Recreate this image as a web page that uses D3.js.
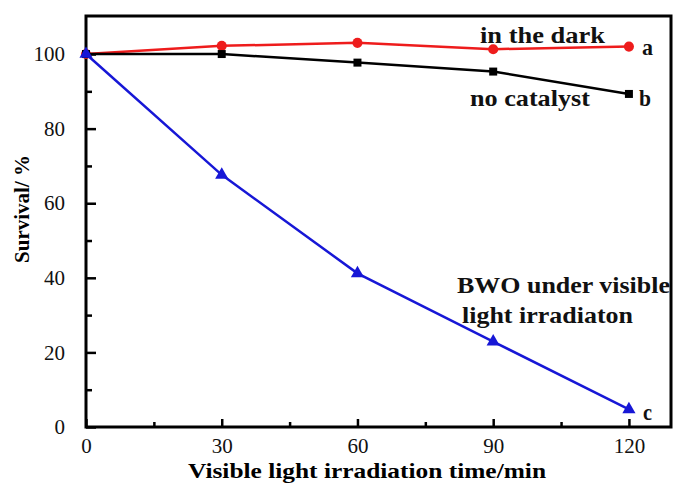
<!DOCTYPE html>
<html>
<head>
<meta charset="utf-8">
<script src="https://cdn.jsdelivr.net/npm/d3@7"></script>
<style>
  body { margin: 0; background: #fff; }
</style>
</head>
<body>
<div id="place"></div>
<script>
// data
const times = [0, 30, 60, 90, 120];
const darkValues = [100, 102.2, 103, 101.3, 102];
const noCatalystValues = [100, 100, 97.7, 95.3, 89.3];
const bwoValues = [100, 67.6, 41.2, 22.9, 4.7];
const xTicks = [0, 30, 60, 90, 120];
const yTicks = [0, 20, 40, 60, 80, 100];

const serif = "'Liberation Serif'";
const W = 673, H = 484;
const margin = { top: 16, right: 2, bottom: 57, left: 86 };
const width = W - margin.left - margin.right,
    height = H - margin.top - margin.bottom;

let svg = d3.select("#place").append("svg")
    .attr("width", W)
    .attr("height", H)
    .style("font-family", serif);

let g = svg.append("g")
    .attr("transform", "translate(" + margin.left + "," + margin.top + ")");

let x = d3.scaleLinear().domain([0, 129.3]).range([0, width]);
let y = d3.scaleLinear().domain([0, 110.2]).range([height, 0]);

// minor + major ticks, pointing inside
g.append("g")
    .attr("transform", "translate(0," + height + ")")
    .call(d3.axisBottom(x).tickValues([15, 45, 75, 105]).tickSize(-5).tickFormat(""))
    .call(a => a.select(".domain").remove())
    .call(a => a.selectAll("line").attr("stroke-width", 2.5));

g.append("g")
    .attr("transform", "translate(0," + height + ")")
    .call(d3.axisBottom(x).tickValues(xTicks).tickSize(-8).tickPadding(11))
    .call(a => a.select(".domain").remove())
    .call(a => a.selectAll("line").attr("stroke-width", 2.5))
    .call(a => a.selectAll("text").style("font-family", serif).attr("font-size", 21).attr("fill", "#111"));

g.append("g")
    .call(d3.axisLeft(y).tickValues([10, 30, 50, 70, 90]).tickSize(-6).tickFormat(""))
    .call(a => a.select(".domain").remove())
    .call(a => a.selectAll("line").attr("stroke-width", 2.5));

g.append("g")
    .call(d3.axisLeft(y).tickValues(yTicks).tickSize(-10).tickPadding(21))
    .call(a => a.select(".domain").remove())
    .call(a => a.selectAll("line").attr("stroke-width", 2.5))
    .call(a => a.selectAll("text").style("font-family", serif).attr("font-size", 21).attr("fill", "#111"));

// frame
g.append("rect")
    .attr("width", width)
    .attr("height", height)
    .attr("fill", "none")
    .attr("stroke", "#000")
    .attr("stroke-width", 3);

let line = d3.line()
    .x((d, i) => x(times[i]))
    .y(d => y(d));

const series = [
    { values: darkValues, color: "#ee1c1c", shape: "circle" },
    { values: noCatalystValues, color: "#000000", shape: "square" },
    { values: bwoValues, color: "#1717d6", shape: "triangle" }
];

series.forEach(function (s) {
    g.append("path")
        .datum(s.values)
        .attr("d", line)
        .attr("fill", "none")
        .attr("stroke", s.color)
        .attr("stroke-width", 2.5);

    let sym = s.shape == "circle" ? d3.symbolCircle : (s.shape == "square" ? d3.symbolSquare : d3.symbolTriangle);
    let size = s.shape == "circle" ? 80 : (s.shape == "square" ? 64 : 75);
    g.selectAll(".m-" + s.shape)
        .data(s.values)
        .join("path")
        .attr("class", "m-" + s.shape)
        .attr("transform", (d, i) => "translate(" + x(times[i]) + "," + y(d) + ")")
        .attr("d", d3.symbol().type(sym).size(size))
        .attr("fill", s.color);
});

// labels
const labels = [
    { t: "in the dark", x: 480, y: 43, len: 125 },
    { t: "a", x: 642, y: 55, len: 11 },
    { t: "no catalyst", x: 470, y: 106, len: 120 },
    { t: "b", x: 639, y: 106, len: 12 },
    { t: "BWO under visible", x: 457, y: 293, len: 213 },
    { t: "light irradiaton", x: 462, y: 323, len: 171 },
    { t: "c", x: 643, y: 420, len: 9 }
];

svg.selectAll(".lab")
    .data(labels)
    .join("text")
    .attr("class", "lab")
    .attr("x", d => d.x)
    .attr("y", d => d.y)
    .style("font-family", serif)
    .attr("font-size", 23)
    .attr("font-weight", "bold")
    .attr("textLength", d => d.len)
    .attr("lengthAdjust", "spacingAndGlyphs")
    .attr("fill", "#111")
    .text(d => d.t);

svg.append("text")
    .attr("x", 367)
    .attr("y", 478)
    .attr("text-anchor", "middle")
    .style("font-family", serif)
    .attr("font-size", 22)
    .attr("font-weight", "bold")
    .attr("textLength", 358)
    .attr("lengthAdjust", "spacingAndGlyphs")
    .text("Visible light irradiation time/min");

svg.append("text")
    .attr("transform", "translate(29,209) rotate(-90)")
    .attr("text-anchor", "middle")
    .style("font-family", serif)
    .attr("font-size", 21)
    .attr("font-weight", "bold")
    .text("Survival/ %");
</script>
</body>
</html>
